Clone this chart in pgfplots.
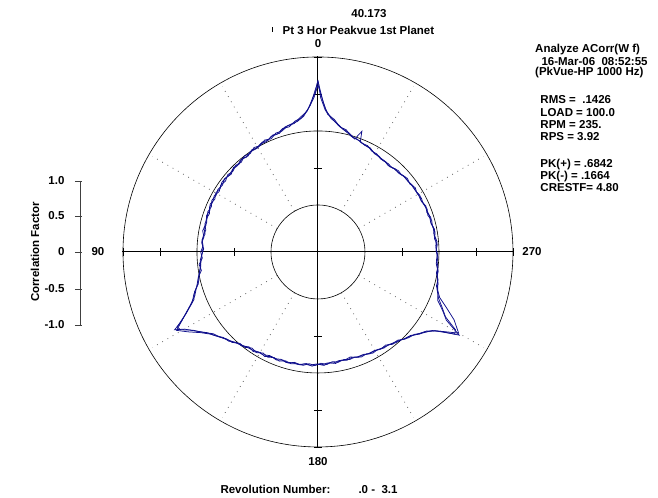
\documentclass[border=0pt]{standalone}
\usepackage{pgfplots}
\pgfplotsset{compat=1.18}
\usepackage{pgfplotstable}
\usepackage{fontspec}
\setmainfont{Liberation Sans}
\definecolor{trace}{RGB}{15,15,140}

% angle a in degrees, counterclockwise from top (0 = top, 90 = left); c = correlation factor
\pgfplotstableread{
a c
0 0.67
3 0.35
6 0.21
9 0.15
12 0.13
15 0.11
18 0.05
21 0.06
24 0.02
27 0.03
30 -0.01
33 0.01
36 -0.03
39 -0.01
42 -0.04
45 -0.02
48 -0.06
51 -0.04
54 -0.03
57 -0.06
60 -0.04
63 -0.07
66 -0.04
69 -0.07
72 -0.05
75 -0.08
78 -0.06
81 -0.09
84 -0.06
87 -0.08
90 -0.05
93 -0.07
96 -0.02
99 -0.04
102 0.02
105 0.04
108 0.12
111 0.16
114 0.29
117 0.44
118.5 0.57
120 0.45
123 0.33
126 0.22
129 0.16
132 0.09
135 0.07
138 0.01
141 0.00
144 -0.05
147 -0.03
150 -0.07
153 -0.05
156 -0.09
159 -0.07
162 -0.10
165 -0.08
168 -0.11
171 -0.09
174 -0.12
177 -0.09
180 -0.12
183 -0.10
186 -0.13
189 -0.11
192 -0.14
195 -0.12
198 -0.14
201 -0.11
204 -0.12
207 -0.09
210 -0.10
213 -0.07
216 -0.08
219 -0.03
222 -0.03
225 0.03
228 0.05
231 0.13
234 0.18
237 0.33
239.5 0.58
242 0.33
245 0.22
248 0.11
251 0.08
254 0.03
257 0.03
260 -0.01
263 0.00
266 -0.03
269 -0.02
272 -0.04
275 -0.02
278 -0.05
281 -0.03
284 -0.06
287 -0.04
290 -0.07
293 -0.05
296 -0.08
299 -0.06
302 -0.08
305 -0.07
308 -0.09
311 -0.08
314 -0.11
317 -0.10
320 -0.13
323 -0.11
326 -0.12
329 -0.09
332 -0.09
335 -0.05
338 -0.05
341 -0.02
344 -0.01
347 0.06
350 0.08
353 0.17
356 0.23
358 0.39
360 0.67
}\traceA

\pgfplotstableread{
a c
0 0.62
1.5 0.45
4.5 0.27
7.5 0.20
10.5 0.13
13.5 0.12
16.5 0.07
19.5 0.07
22.5 0.02
25.5 0.04
28.5 0.00
31.5 0.02
34.5 -0.02
37.5 0.00
40.5 -0.04
43.5 -0.02
46.5 -0.05
49.5 -0.03
52.5 -0.06
55.5 -0.04
58.5 -0.07
61.5 -0.04
64.5 -0.06
67.5 -0.05
70.5 -0.08
73.5 -0.06
76.5 -0.08
79.5 -0.05
82.5 -0.08
85.5 -0.06
88.5 -0.09
91.5 -0.06
94.5 -0.05
97.5 -0.03
100.5 0.00
103.5 0.02
106.5 0.08
109.5 0.13
112.5 0.23
115.5 0.36
119 0.55
121.5 0.43
124.5 0.29
127.5 0.19
130.5 0.13
133.5 0.07
136.5 0.05
139.5 -0.01
142.5 -0.01
145.5 -0.06
148.5 -0.04
151.5 -0.08
154.5 -0.06
157.5 -0.09
160.5 -0.07
163.5 -0.10
166.5 -0.08
169.5 -0.10
172.5 -0.09
175.5 -0.12
178.5 -0.10
181.5 -0.13
184.5 -0.11
187.5 -0.14
190.5 -0.12
193.5 -0.14
196.5 -0.12
199.5 -0.13
202.5 -0.10
205.5 -0.11
208.5 -0.08
211.5 -0.09
214.5 -0.06
217.5 -0.06
220.5 -0.02
223.5 0.00
226.5 0.05
229.5 0.08
232.5 0.16
235.5 0.24
238 0.40
240 0.56
243.5 0.42
246.5 0.26
249.5 0.12
252.5 0.06
255.5 0.04
258.5 0.01
261.5 0.00
264.5 -0.03
267.5 -0.01
270.5 -0.04
273.5 -0.02
276.5 -0.05
279.5 -0.03
282.5 -0.05
285.5 -0.04
288.5 -0.07
291.5 -0.05
294.5 -0.07
297.5 -0.06
300.5 -0.08
303.5 -0.06
306.5 -0.09
309.5 -0.07
312.5 -0.10
315.5 -0.09
318.5 -0.12
321.5 -0.11
324.5 -0.12
327.5 -0.10
330.5 -0.10
333.5 -0.06
336.5 -0.06
339.5 -0.03
342.5 -0.02
345.5 0.03
348.5 0.06
351.5 0.12
354.5 0.18
357 0.30
359 0.50
360 0.62
}\traceB

\pgfplotstableread{
a c
0 0.69
1 0.52
4 0.30
7 0.19
10 0.16
13 0.10
16 0.10
19 0.05
22 0.05
25 0.01
28 0.02
31 -0.01
34 0.00
37 -0.03
40 -0.01
43 -0.04
46 -0.03
49 -0.05
52 -0.03
55 -0.06
58 -0.04
61 -0.06
64 -0.04
67 -0.07
70 -0.05
73 -0.07
76 -0.06
79 -0.09
82 -0.07
85 -0.06
88 -0.08
91 -0.07
94 -0.04
97 -0.04
100 -0.01
103 0.03
106 0.07
109 0.14
112 0.20
115 0.33
118 0.52
119.5 0.50
122 0.36
125 0.26
128 0.16
131 0.12
134 0.07
137 0.03
140 0.00
143 -0.03
146 -0.04
149 -0.06
152 -0.06
155 -0.09
158 -0.08
161 -0.10
164 -0.08
167 -0.10
170 -0.09
173 -0.11
176 -0.10
179 -0.12
182 -0.11
185 -0.13
188 -0.12
191 -0.14
194 -0.13
197 -0.15
200 -0.12
203 -0.12
206 -0.10
209 -0.10
212 -0.08
215 -0.07
218 -0.05
221 -0.03
224 0.01
227 0.04
230 0.10
233 0.16
236 0.27
239 0.52
240.5 0.50
243 0.30
246 0.20
249 0.11
252 0.06
255 0.04
258 0.01
261 0.01
264 -0.02
267 -0.02
270 -0.03
273 -0.04
276 -0.03
279 -0.05
282 -0.04
285 -0.06
288 -0.05
291 -0.06
294 -0.06
297 -0.08
300 -0.07
303 -0.08
306 -0.08
309 -0.09
312 -0.09
315 -0.11
318 -0.11
321 -0.13
324 -0.11
327 -0.11
330 -0.10
333 -0.07
336 -0.06
339 -0.04
340 0.10
342 -0.03
345 0.01
348 0.05
351 0.10
354 0.18
357 0.28
359 0.45
360 0.69
}\traceC

\begin{document}
\begin{tikzpicture}[font=\fontsize{11.5}{13}\selectfont\bfseries]
\begin{axis}[x=74pt, y=74pt, hide axis, clip=false,
  xmin=-4.297, xmax=4.595, ymin=-3.311, ymax=3.405]
\path (rel axis cs:0,0) rectangle (rel axis cs:1,1);
\coordinate (O) at (axis cs:0,0);
% dotted radial lines
\pgfplotsinvokeforeach{30,60,120,150,210,240,300,330}{
  \draw[black!60, line width=0.8pt, dash pattern=on 0.8pt off 5.2pt]
    ([shift={(90+#1:47pt)}]O) -- ([shift={(90+#1:191pt)}]O);
}
% circles
\draw[line width=0.6pt] (O) circle[radius=195pt];
\draw[line width=0.6pt] (O) circle[radius=121pt];
\draw[line width=0.6pt] (O) circle[radius=47pt];
% axes
\draw[line width=1pt] (axis cs:-2.65,0) -- (axis cs:2.65,0);
\draw[line width=1pt] (axis cs:0,-2.65) -- (axis cs:0,2.65);
\pgfplotsinvokeforeach{1.135,2.135,2.635}{
  \draw[line width=0.8pt] ([yshift=-4pt]axis cs:#1,0) -- ([yshift=4pt]axis cs:#1,0);
  \draw[line width=0.8pt] ([yshift=-4pt]axis cs:-#1,0) -- ([yshift=4pt]axis cs:-#1,0);
  \draw[line width=0.8pt] ([xshift=-4pt]axis cs:0,#1) -- ([xshift=4pt]axis cs:0,#1);
  \draw[line width=0.8pt] ([xshift=-4pt]axis cs:0,-#1) -- ([xshift=4pt]axis cs:0,-#1);
}
% data
\addplot[trace, line width=0.75pt] table[x expr={-(\thisrow{c}+1.635)*sin(\thisrow{a})}, y expr={(\thisrow{c}+1.635)*cos(\thisrow{a})}] {\traceA};
\addplot[trace, line width=0.75pt] table[x expr={-(\thisrow{c}+1.635)*sin(\thisrow{a})}, y expr={(\thisrow{c}+1.635)*cos(\thisrow{a})}] {\traceB};
\addplot[trace, line width=0.75pt] table[x expr={-(\thisrow{c}+1.635)*sin(\thisrow{a})}, y expr={(\thisrow{c}+1.635)*cos(\thisrow{a})}] {\traceC};
% angle labels
\node at (axis cs:0,2.81) {0};
\node at (axis cs:-2.973,0) {90};
\node at (axis cs:2.892,0) {270};
\node at (axis cs:0,-2.838) {180};
% titles
\node at (axis cs:0.689,3.216) {40.173};
\node at (axis cs:0.547,3.0) {Pt 3 Hor Peakvue 1st Planet};
\draw[line width=0.6pt] (axis cs:-0.612,3.035) -- (axis cs:-0.612,2.975);
% left scale
\draw[black!75, line width=0.8pt] (axis cs:-3.216,0.959) -- (axis cs:-3.216,-0.986);
\pgfplotsinvokeforeach{0.959,0.486,0,-0.5,-0.986}{
  \draw[black!75, line width=0.8pt] ([xshift=-5pt]axis cs:-3.216,#1) -- ([xshift=2pt]axis cs:-3.216,#1);
}
\node[anchor=east] at (axis cs:-3.378,0.959) {1.0};
\node[anchor=east] at (axis cs:-3.378,0.486) {0.5};
\node[anchor=east] at (axis cs:-3.378,0) {0};
\node[anchor=east] at (axis cs:-3.378,-0.5) {-0.5};
\node[anchor=east] at (axis cs:-3.378,-0.986) {-1.0};
\node[rotate=90] at (axis cs:-3.824,0) {Correlation Factor};
% bottom
\node[anchor=west] at (axis cs:-1.365,-3.215) {Revolution Number:};
\node[anchor=west] at (axis cs:0.50,-3.215) {.0 -\ \ 3.1};
% right block
\node[anchor=west] at (axis cs:2.888,2.730) {Analyze ACorr(W f)};
\node[anchor=west] at (axis cs:2.973,2.572) {16-Mar-06\ \ 08:52:55};
\node[anchor=west] at (axis cs:2.888,2.419) {(PkVue-HP 1000 Hz)};
\node[anchor=west] at (axis cs:2.959,2.054) {RMS =\ \ .1426};
\node[anchor=west] at (axis cs:2.959,1.878) {LOAD = 100.0};
\node[anchor=west] at (axis cs:2.959,1.716) {RPM = 235.};
\node[anchor=west] at (axis cs:2.959,1.554) {RPS = 3.92};
\node[anchor=west] at (axis cs:2.959,1.176) {PK(+) = .6842};
\node[anchor=west] at (axis cs:2.959,1.014) {PK(-) = .1664};
\node[anchor=west] at (axis cs:2.959,0.865) {CRESTF= 4.80};
\end{axis}
\end{tikzpicture}
\end{document}
